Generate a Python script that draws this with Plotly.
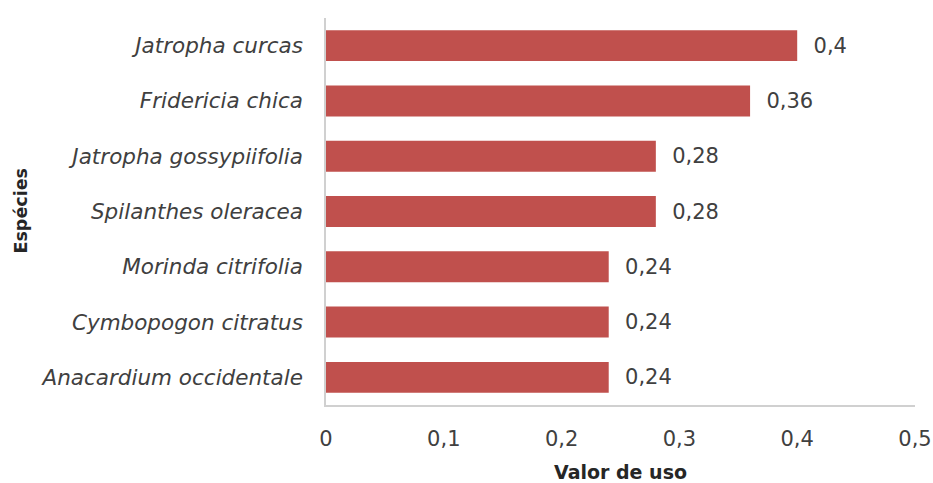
import plotly.graph_objects as go

species = [
    "Anacardium occidentale",
    "Cymbopogon citratus",
    "Morinda citrifolia",
    "Spilanthes oleracea",
    "Jatropha gossypiifolia",
    "Fridericia chica",
    "Jatropha curcas",
]
use_values = [0.24, 0.24, 0.24, 0.28, 0.28, 0.36, 0.40]
x_ticks = [0, 0.1, 0.2, 0.3, 0.4, 0.5]
x_tick_labels = ["0", "0,1", "0,2", "0,3", "0,4", "0,5"]


def fmt(v):
    return ("%g" % v).replace(".", ",")


FONT = "DejaVu Sans"
TEXT = "#404040"
NBSP = "\u00a0"
W, H = 933, 483
ML, MR, MT, MB = 326, 18, 18, 78

fig = go.Figure(
    go.Bar(
        y=species,
        x=use_values,
        orientation="h",
        marker=dict(color="#C0504D", line=dict(width=0)),
        text=[NBSP * 2 + fmt(v) for v in use_values],
        textposition="outside",
        textfont=dict(family=FONT, size=21, color=TEXT),
        cliponaxis=False,
    )
)

fig.update_layout(
    width=W,
    height=H,
    margin=dict(l=ML, r=MR, t=MT, b=MB),
    paper_bgcolor="white",
    plot_bgcolor="white",
    bargap=0.44,
    showlegend=False,
    font=dict(family=FONT, color=TEXT),
)

fig.update_xaxes(
    range=[0, 0.5],
    tickvals=x_ticks,
    ticktext=x_tick_labels,
    tickfont=dict(family=FONT, size=21, color=TEXT),
    showgrid=False,
    zeroline=False,
    showline=True,
    linecolor="#d0d0d0",
    linewidth=1.5,
    ticks="",
    ticklabelstandoff=14,
    automargin=False,
    title=dict(
        text="<b>Valor de uso</b>",
        font=dict(family=FONT, size=19, color="#262626"),
        standoff=20,
    ),
)

fig.update_yaxes(
    categoryorder="array",
    categoryarray=species,
    tickfont=dict(family=FONT, size=21.5, color=TEXT),
    tickprefix="<i>",
    ticksuffix="</i>",
    showgrid=False,
    zeroline=False,
    showline=True,
    linecolor="#d0d0d0",
    linewidth=1.5,
    ticks="",
    ticklabelstandoff=17,
    automargin=False,
)

# Vertical axis title placed at a fixed position in the left margin
plot_w = W - ML - MR
fig.add_annotation(
    text="<b>Espécies</b>",
    textangle=-90,
    xref="paper",
    yref="paper",
    x=(20 - ML) / plot_w,
    y=0.5,
    xanchor="center",
    yanchor="middle",
    showarrow=False,
    font=dict(family=FONT, size=17.5, color="#262626"),
)

fig.write_html("out.html")
